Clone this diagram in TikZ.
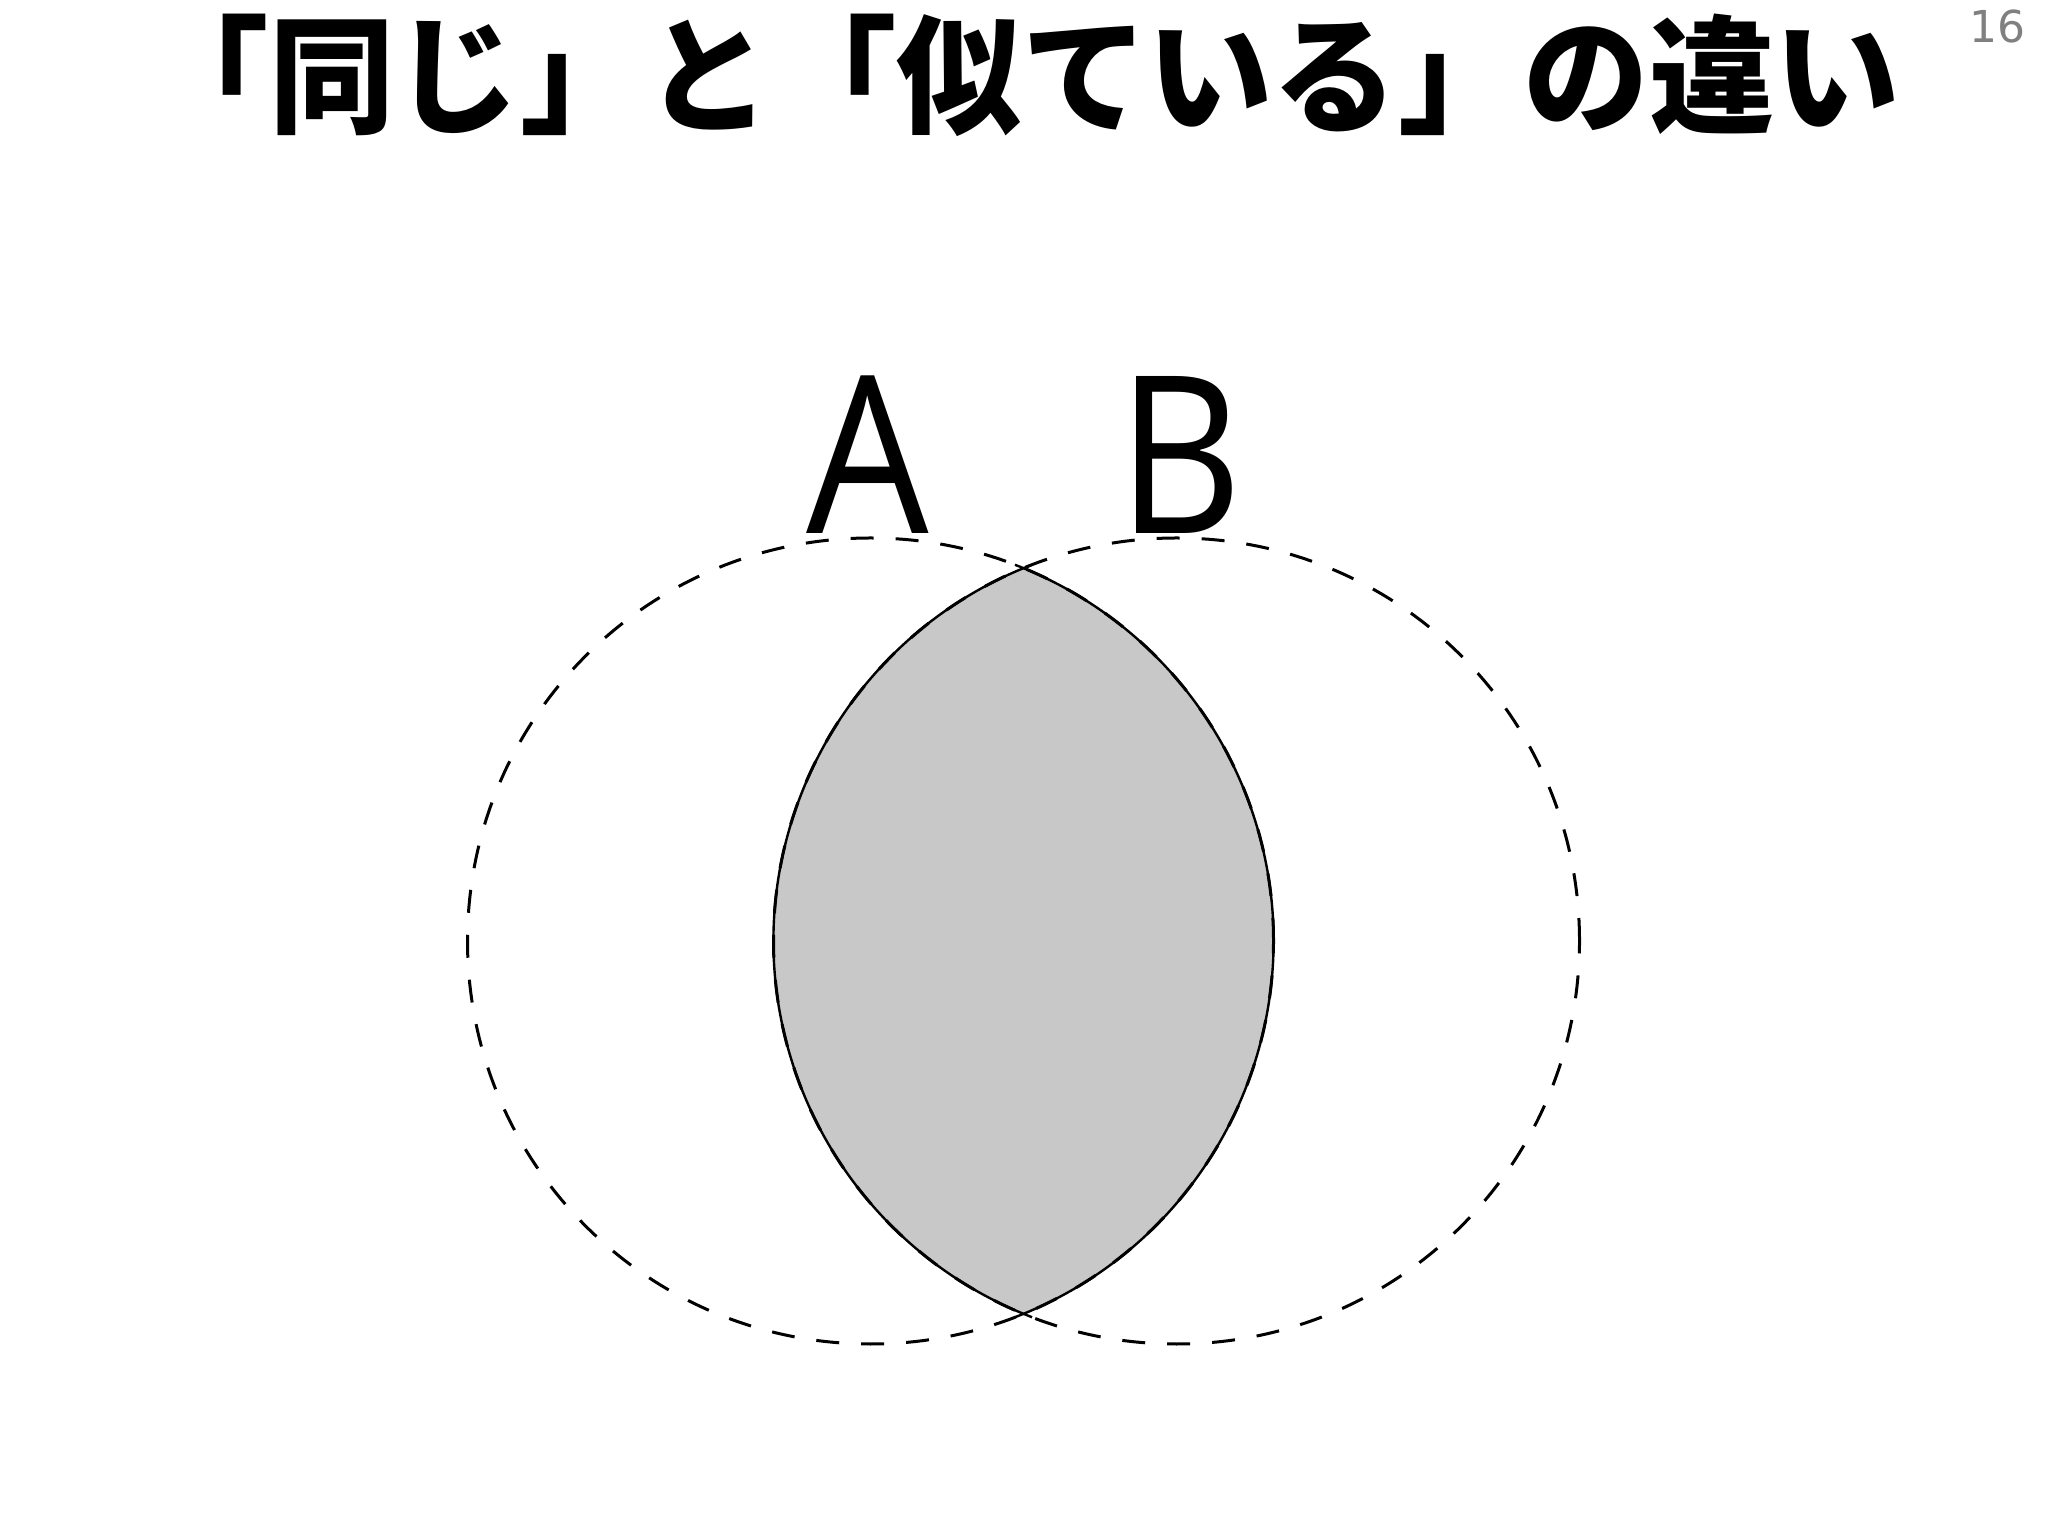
\documentclass[tikz,border=0pt]{standalone}
\usepackage{fontspec}
\setmainfont{Open Sans}
\newfontfamily\cjk{Noto Sans CJK JP}
\newfontfamily\pagefont{DejaVu Sans}
\definecolor{lensgray}{HTML}{C8C8C8}
\definecolor{pagegray}{HTML}{808080}
\tikzset{
  setline/.style={line width=1.5pt, dash pattern=on 11.5pt off 11pt},
  lensline/.style={line width=1.2pt},
  letter/.style={font=\fontsize{110pt}{110pt}\selectfont, inner sep=0pt, anchor=base, xscale=0.88},
}
\begin{document}
\begin{tikzpicture}[x=0.5pt,y=0.5pt]
\useasboundingbox (0,0) rectangle (2048,1536);
% title
\node[inner sep=0pt, xscale=0.98, font=\cjk\bfseries\fontsize{64pt}{64pt}\selectfont] (title) at (1022,1461) {「同じ」と「似ている」の違い};
\node[inner sep=0pt, text=pagegray, font=\pagefont\fontsize{22pt}{22pt}\selectfont] (page) at (1997,1509) {16};
% lens fill
\begin{scope}
  \clip (870.5,595) circle (403);
  \fill[lensgray] (1176.5,595) circle (403);
\end{scope}
% lens outline
\draw[lensline] (870.5,595) ++(-69:403) arc (-69:69:403);
\draw[lensline] (1176.5,595) ++(111:403) arc (111:249:403);
% set circles
\draw[setline] (870.5,595) circle (403);
\draw[setline] (1176.5,595) circle (403);
% labels
\node[letter] (A) at (868,1002) {A};
\node[letter] (B) at (1180,1002) {B};
\end{tikzpicture}
\end{document}
